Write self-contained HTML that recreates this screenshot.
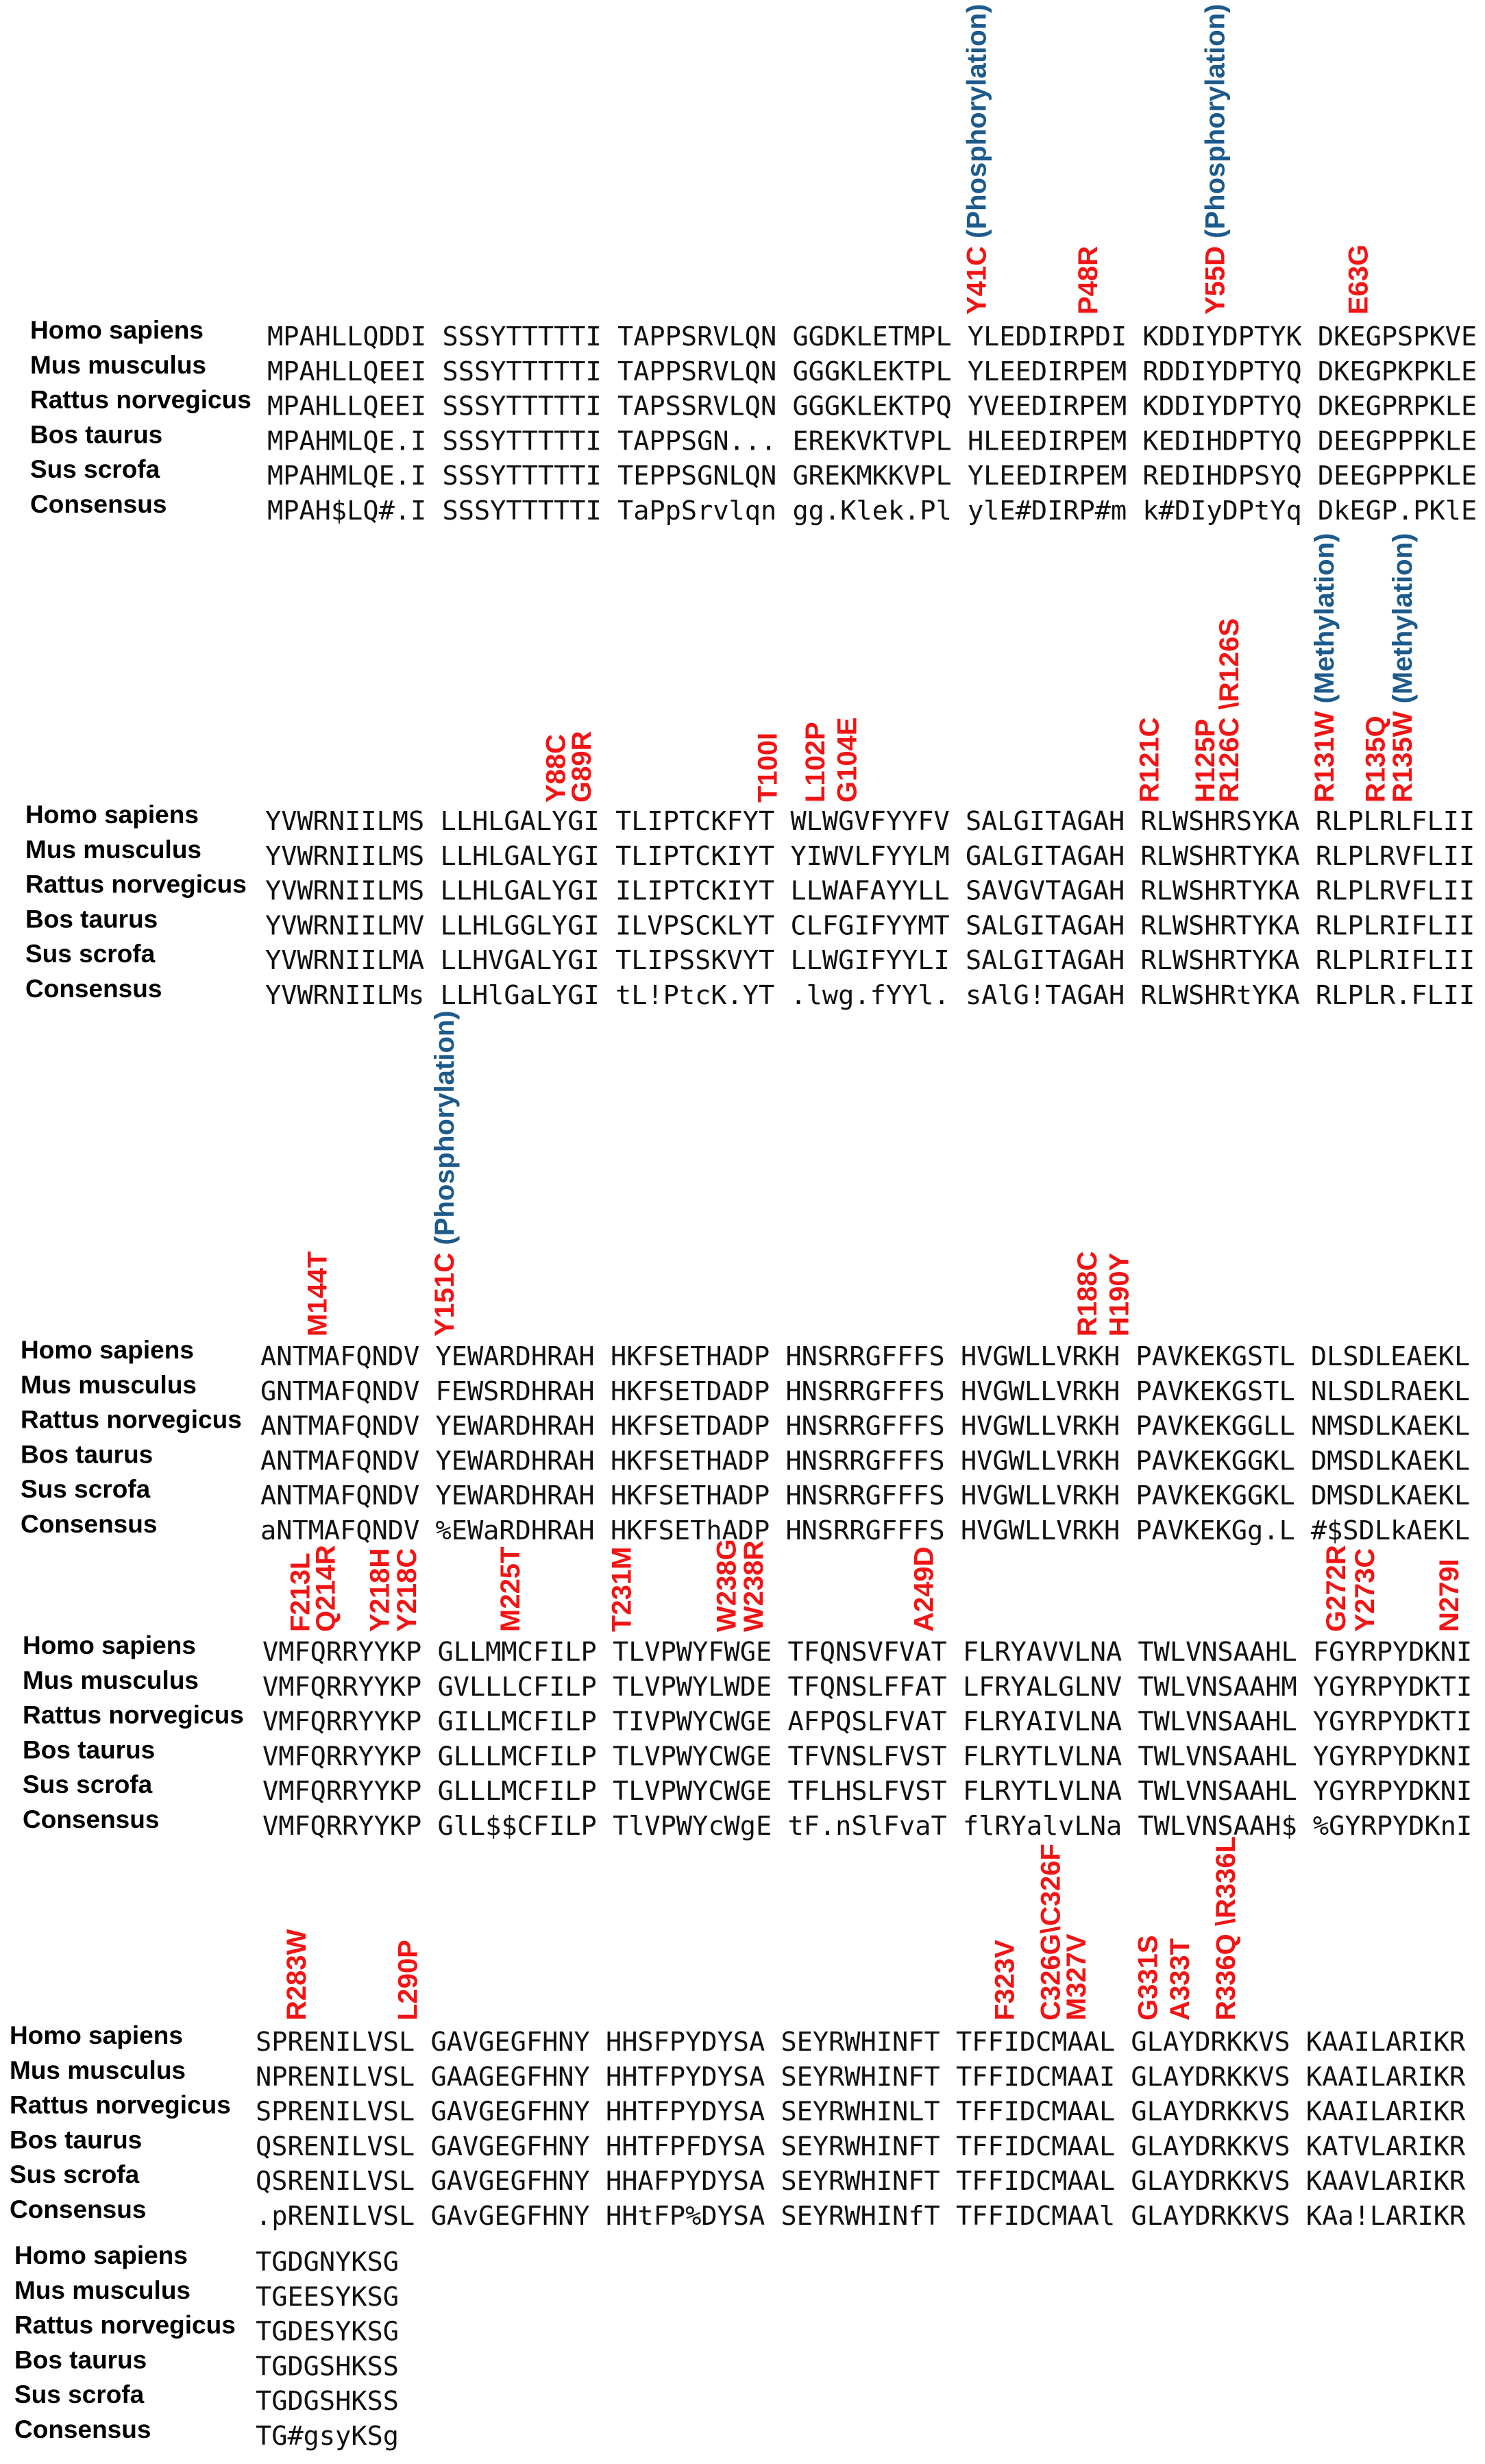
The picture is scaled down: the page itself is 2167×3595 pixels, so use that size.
<!DOCTYPE html>
<html><head><meta charset="utf-8">
<style>
html,body{margin:0;padding:0;background:#fff;}
svg{display:block;}
.seq{font-family:"DejaVu Sans Mono","Liberation Mono",monospace;font-size:38.6px;fill:#111;}
.lab{font-family:"Liberation Sans",sans-serif;font-weight:bold;font-size:37px;fill:#000;}
.ann{font-family:"Liberation Sans",sans-serif;font-weight:bold;font-size:40px;}
</style></head>
<body>
<svg id="fig" xmlns="http://www.w3.org/2000/svg" width="2167" height="3595" viewBox="0 0 2167 3595"></svg>
<script>
const species = ["Homo sapiens","Mus musculus","Rattus norvegicus","Bos taurus","Sus scrofa","Consensus"];
const block1 = ["MPAHLLQDDI SSSYTTTTTI TAPPSRVLQN GGDKLETMPL YLEDDIRPDI KDDIYDPTYK DKEGPSPKVE","MPAHLLQEEI SSSYTTTTTI TAPPSRVLQN GGGKLEKTPL YLEEDIRPEM RDDIYDPTYQ DKEGPKPKLE","MPAHLLQEEI SSSYTTTTTI TAPSSRVLQN GGGKLEKTPQ YVEEDIRPEM KDDIYDPTYQ DKEGPRPKLE","MPAHMLQE.I SSSYTTTTTI TAPPSGN... EREKVKTVPL HLEEDIRPEM KEDIHDPTYQ DEEGPPPKLE","MPAHMLQE.I SSSYTTTTTI TEPPSGNLQN GREKMKKVPL YLEEDIRPEM REDIHDPSYQ DEEGPPPKLE","MPAH$LQ#.I SSSYTTTTTI TaPpSrvlqn gg.Klek.Pl ylE#DIRP#m k#DIyDPtYq DkEGP.PKlE"];
const block2 = ["YVWRNIILMS LLHLGALYGI TLIPTCKFYT WLWGVFYYFV SALGITAGAH RLWSHRSYKA RLPLRLFLII","YVWRNIILMS LLHLGALYGI TLIPTCKIYT YIWVLFYYLM GALGITAGAH RLWSHRTYKA RLPLRVFLII","YVWRNIILMS LLHLGALYGI ILIPTCKIYT LLWAFAYYLL SAVGVTAGAH RLWSHRTYKA RLPLRVFLII","YVWRNIILMV LLHLGGLYGI ILVPSCKLYT CLFGIFYYMT SALGITAGAH RLWSHRTYKA RLPLRIFLII","YVWRNIILMA LLHVGALYGI TLIPSSKVYT LLWGIFYYLI SALGITAGAH RLWSHRTYKA RLPLRIFLII","YVWRNIILMs LLHlGaLYGI tL!PtcK.YT .lwg.fYYl. sAlG!TAGAH RLWSHRtYKA RLPLR.FLII"];
const block3 = ["ANTMAFQNDV YEWARDHRAH HKFSETHADP HNSRRGFFFS HVGWLLVRKH PAVKEKGSTL DLSDLEAEKL","GNTMAFQNDV FEWSRDHRAH HKFSETDADP HNSRRGFFFS HVGWLLVRKH PAVKEKGSTL NLSDLRAEKL","ANTMAFQNDV YEWARDHRAH HKFSETDADP HNSRRGFFFS HVGWLLVRKH PAVKEKGGLL NMSDLKAEKL","ANTMAFQNDV YEWARDHRAH HKFSETHADP HNSRRGFFFS HVGWLLVRKH PAVKEKGGKL DMSDLKAEKL","ANTMAFQNDV YEWARDHRAH HKFSETHADP HNSRRGFFFS HVGWLLVRKH PAVKEKGGKL DMSDLKAEKL","aNTMAFQNDV %EWaRDHRAH HKFSEThADP HNSRRGFFFS HVGWLLVRKH PAVKEKGg.L #$SDLkAEKL"];
const block4 = ["VMFQRRYYKP GLLMMCFILP TLVPWYFWGE TFQNSVFVAT FLRYAVVLNA TWLVNSAAHL FGYRPYDKNI","VMFQRRYYKP GVLLLCFILP TLVPWYLWDE TFQNSLFFAT LFRYALGLNV TWLVNSAAHM YGYRPYDKTI","VMFQRRYYKP GILLMCFILP TIVPWYCWGE AFPQSLFVAT FLRYAIVLNA TWLVNSAAHL YGYRPYDKTI","VMFQRRYYKP GLLLMCFILP TLVPWYCWGE TFVNSLFVST FLRYTLVLNA TWLVNSAAHL YGYRPYDKNI","VMFQRRYYKP GLLLMCFILP TLVPWYCWGE TFLHSLFVST FLRYTLVLNA TWLVNSAAHL YGYRPYDKNI","VMFQRRYYKP GlL$$CFILP TlVPWYcWgE tF.nSlFvaT flRYalvLNa TWLVNSAAH$ %GYRPYDKnI"];
const block5 = ["SPRENILVSL GAVGEGFHNY HHSFPYDYSA SEYRWHINFT TFFIDCMAAL GLAYDRKKVS KAAILARIKR","NPRENILVSL GAAGEGFHNY HHTFPYDYSA SEYRWHINFT TFFIDCMAAI GLAYDRKKVS KAAILARIKR","SPRENILVSL GAVGEGFHNY HHTFPYDYSA SEYRWHINLT TFFIDCMAAL GLAYDRKKVS KAAILARIKR","QSRENILVSL GAVGEGFHNY HHTFPFDYSA SEYRWHINFT TFFIDCMAAL GLAYDRKKVS KATVLARIKR","QSRENILVSL GAVGEGFHNY HHAFPYDYSA SEYRWHINFT TFFIDCMAAL GLAYDRKKVS KAAVLARIKR",".pRENILVSL GAvGEGFHNY HHtFP%DYSA SEYRWHINfT TFFIDCMAAl GLAYDRKKVS KAa!LARIKR"];
const block6 = ["TGDGNYKSG","TGEESYKSG","TGDESYKSG","TGDGSHKSS","TGDGSHKSS","TG#gsyKSg"];
const blockSeqs = [block1,block2,block3,block4,block5,block6];
const blockStart = [1,71,141,211,281,351];
const annRes = [41,48,55,63, 88,89,100,102,104,121,125,126,131,135,135, 144,151,188,190, 213,214,218,218,225,231,238,238,249,272,273,279, 283,290,323,326,327,331,333,336];
const annRed = ["Y41C","P48R","Y55D","E63G","Y88C","G89R","T100I","L102P","G104E","R121C","H125P","R126C \\R126S","R131W","R135Q","R135W","M144T","Y151C","R188C","H190Y","F213L","Q214R","Y218H","Y218C","M225T","T231M","W238G","W238R","A249D","G272R","Y273C","N279I","R283W","L290P","F323V","C326G\\C326F","M327V","G331S","A333T","R336Q \\R336L"];
const annBlue = ["(Phosphorylation)","","(Phosphorylation)","","","","","","","","","","(Methylation)","","(Methylation)","","(Phosphorylation)","","","","","","","","","","","","","","","","","","","","","",""];
const annShift = [0,0,0,0,-0.3,0.3,0,0,0,0,-0.5,0,0,-0.8,0.9,0,0,0.4,0.4,-0.2,0.4,-0.2,1.5,0,0,-0.4,1.3,0,-0.1,0.7,0,0,0,0.5,0.4,1.0,0.5,0.5,0.4];

const layout = [
  {x0:390,lx:44,y1:490,ab:-31},
  {x0:387,lx:37,y1:1197,ab:-26},
  {x0:380,lx:30,y1:1978,ab:-28},
  {x0:383,lx:33,y1:2409,ab:-28},
  {x0:373,lx:14,y1:2978,ab:-30},
  {x0:373,lx:21,y1:3299,ab:-30}
];
const CW=23.22, RS=50.8;
const NS="http://www.w3.org/2000/svg";
const svg=document.getElementById('fig');
function mk(tag,attrs,parent){const e=document.createElementNS(NS,tag);for(const k in attrs)e.setAttribute(k,attrs[k]);(parent||svg).appendChild(e);return e;}

blockSeqs.forEach((rows,b)=>{
  const L=layout[b];
  const g=mk('g',{});
  
  
  rows.forEach((s,r)=>{
    const cy=L.y1+r*RS;
    const lt=mk('text',{class:'lab',x:L.lx,y:cy+4},g);
    
    
    lt.textContent=species[r];
    const st=mk('text',{class:'seq',x:L.x0,y:cy+14},g);
    
    
    st.textContent=s;
  });
});

function colX(res){
  let b=0; for(let i=0;i<blockStart.length;i++){ if(res>=blockStart[i]) b=i; }
  const idx=res-blockStart[b]; const gi=Math.floor(idx/10), p=idx%10;
  return {b:b, x:layout[b].x0+(gi*11+p+0.5)*CW};
}
annRes.forEach((res,i)=>{
  const c=colX(res); const L=layout[c.b];
  const cx=c.x+annShift[i]*CW;
  const by=L.y1+L.ab;
  const t=mk('text',{class:'ann',transform:'translate('+(cx+15)+','+by+') rotate(-90)'});
  
  
  const r=mk('tspan',{fill:'#f21414'},t); r.textContent=annRed[i];
  if(annBlue[i]){
    const bl=mk('tspan',{fill:'#1d5a8c'},t); bl.textContent=' '+annBlue[i];
  }
});
</script>
</body></html>
